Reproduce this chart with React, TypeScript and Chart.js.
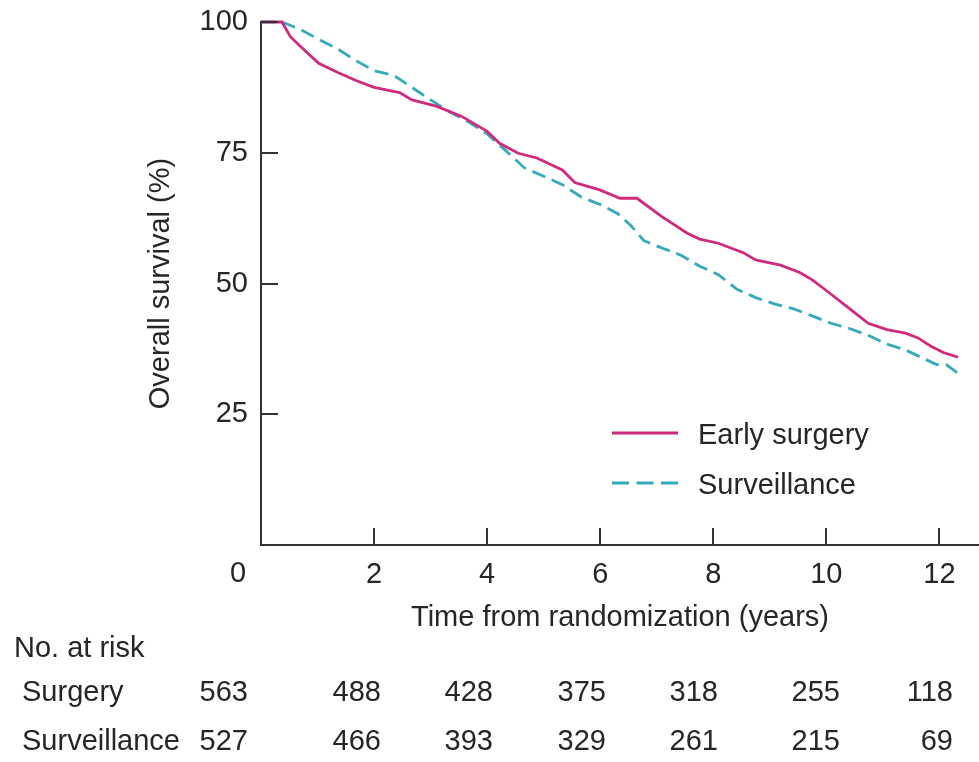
import { useEffect, useRef } from 'react';
import { Chart, registerables } from 'chart.js';

Chart.register(...registerables);

// Kaplan–Meier estimates (years from randomization, % surviving)
const surgeryTimes = [0, 0.37, 0.52, 0.69, 1.02, 1.35, 1.68, 2.0, 2.45, 2.67, 3.1, 3.56, 4.0, 4.22, 4.55, 4.88, 5.33, 5.55, 5.99, 6.35, 6.65, 7.09, 7.54, 7.76, 8.09, 8.53, 8.75, 9.19, 9.53, 9.75, 9.97, 10.41, 10.74, 11.07, 11.4, 11.62, 11.85, 12.07, 12.33];
const surgerySurvival = [100, 100, 97.2, 95.4, 92.1, 90.4, 88.8, 87.5, 86.5, 85.1, 83.9, 81.9, 79.1, 76.8, 74.9, 74.0, 71.7, 69.3, 67.9, 66.3, 66.3, 62.8, 59.6, 58.5, 57.7, 55.9, 54.5, 53.5, 52.1, 50.7, 48.9, 45.2, 42.4, 41.2, 40.5, 39.6, 38.0, 36.8, 35.9];

const surveillanceTimes = [0, 0.37, 0.69, 1.02, 1.35, 1.68, 2.0, 2.35, 2.67, 3.0, 3.34, 3.67, 4.0, 4.33, 4.66, 5.0, 5.33, 5.67, 6.0, 6.32, 6.55, 6.77, 7.09, 7.43, 7.76, 8.09, 8.42, 8.75, 9.08, 9.41, 9.75, 10.08, 10.41, 10.74, 11.07, 11.4, 11.73, 11.95, 12.12, 12.33];
const surveillanceSurvival = [100, 100, 98.6, 96.7, 94.9, 92.6, 90.7, 89.8, 87.5, 85.1, 82.8, 80.9, 78.6, 75.4, 72.1, 70.5, 68.9, 66.5, 65.1, 63.3, 61.0, 58.2, 56.8, 55.4, 53.3, 51.7, 48.9, 47.3, 46.1, 45.2, 43.8, 42.4, 41.4, 40.1, 38.4, 37.3, 35.6, 34.5, 34.5, 32.8];

const seriesLabels = ['Early surgery', 'Surveillance'];

// Numbers at risk
const riskRowLabels = ['Surgery', 'Surveillance'];
const riskSurgery = [563, 488, 428, 375, 318, 255, 118];
const riskSurveillance = [527, 466, 393, 329, 261, 215, 69];

const xTickValues = [0, 2, 4, 6, 8, 10, 12];
const yTickValues = [25, 50, 75, 100];

// layout
const W = 979;
const H = 762;
const FONT = '"Liberation Sans", Arial, Helvetica, sans-serif';
const FONT_SIZE = 29;
const TEXT = '#262626';
const AXIS = '#333333';
const SURGERY_COLOR = '#cf2a7c';
const SURVEILLANCE_COLOR = '#35aabb';
const TICK_LEN = 17;
const riskColumnRight = [248, 381, 493, 606, 718, 840, 953];

const decorations = {
  id: 'decorations',
  afterDraw(chart: any) {
    const { ctx, chartArea, scales } = chart;
    const xs = scales.x;
    const ys = scales.y;
    ctx.save();

    // inward tick marks
    ctx.strokeStyle = AXIS;
    ctx.lineWidth = 2;
    ctx.lineCap = 'butt';
    yTickValues.forEach((v) => {
      const py = Math.round(ys.getPixelForValue(v));
      ctx.beginPath();
      ctx.moveTo(chartArea.left, py);
      ctx.lineTo(chartArea.left + TICK_LEN, py);
      ctx.stroke();
    });
    xTickValues.forEach((v) => {
      if (v === 0) return;
      const px = Math.round(xs.getPixelForValue(v));
      ctx.beginPath();
      ctx.moveTo(px, chartArea.bottom);
      ctx.lineTo(px, chartArea.bottom - TICK_LEN);
      ctx.stroke();
    });

    ctx.font = `${FONT_SIZE}px ${FONT}`;
    ctx.fillStyle = TEXT;
    ctx.textBaseline = 'middle';

    // origin label
    ctx.textAlign = 'center';
    ctx.fillText('0', xs.getPixelForValue(0) - 23, 574);

    // legend
    const legendY = [433, 483];
    chart.data.datasets.forEach((ds: any, i: number) => {
      ctx.save();
      ctx.strokeStyle = ds.borderColor;
      ctx.lineWidth = ds.borderWidth;
      ctx.setLineDash(i === 1 ? [17, 7.5] : []);
      ctx.beginPath();
      ctx.moveTo(612, legendY[i]);
      ctx.lineTo(678, legendY[i]);
      ctx.stroke();
      ctx.restore();
      ctx.textAlign = 'left';
      ctx.fillText(ds.label, 698, legendY[i] + 3);
    });

    // numbers at risk
    ctx.textAlign = 'left';
    ctx.fillText('No. at risk', 14, 649);
    const rows = [riskSurgery, riskSurveillance];
    const rowY = [693, 742];
    rows.forEach((row, r) => {
      ctx.textAlign = 'left';
      ctx.fillText(riskRowLabels[r], 22, rowY[r]);
      ctx.textAlign = 'right';
      row.forEach((n, c) => ctx.fillText(String(n), riskColumnRight[c], rowY[r]));
    });

    ctx.restore();
  },
};

export default function App() {
  const canvasRef = useRef<HTMLCanvasElement>(null);

  useEffect(() => {
    const canvas = canvasRef.current;
    if (!canvas) return;
    const font = { family: FONT, size: FONT_SIZE };
    const chart = new Chart(canvas, {
      type: 'line',
      data: {
        datasets: [
          {
            label: seriesLabels[0],
            data: surgeryTimes.map((t, i) => ({ x: t, y: surgerySurvival[i] })),
            borderColor: SURGERY_COLOR,
            borderWidth: 2.8,
            pointRadius: 0,
            tension: 0,
            clip: 6,
          },
          {
            label: seriesLabels[1],
            data: surveillanceTimes.map((t, i) => ({ x: t, y: surveillanceSurvival[i] })),
            borderColor: SURVEILLANCE_COLOR,
            borderWidth: 2.8,
            borderDash: [14, 7],
            pointRadius: 0,
            tension: 0,
            clip: 6,
          },
        ],
      },
      plugins: [decorations],
      options: {
        animation: false,
        responsive: false,
        layout: { padding: { top: 22, left: 0, right: 0, bottom: 0 } },
        plugins: {
          legend: { display: false },
          tooltip: { enabled: false },
        },
        scales: {
          x: {
            type: 'linear',
            min: 0,
            max: 12.7,
            grid: { display: false, drawTicks: false },
            border: { display: true, color: AXIS, width: 2 },
            ticks: {
              stepSize: 2,
              includeBounds: false,
              padding: 13,
              color: TEXT,
              font,
              callback: (v: any) => (v === 0 ? '' : String(v)),
            },
            title: {
              display: true,
              text: 'Time from randomization (years)',
              color: TEXT,
              font,
              padding: { top: 0, bottom: 127 },
            },
            afterFit: (s: any) => {
              s.height = H - 545;
              s.paddingLeft = 0;
              s.paddingRight = 0;
            },
          },
          y: {
            type: 'linear',
            min: 0,
            max: 100,
            grid: { display: false, drawTicks: false },
            border: { display: true, color: AXIS, width: 2 },
            ticks: {
              stepSize: 25,
              padding: 13,
              color: TEXT,
              font,
              callback: (v: any) => (v === 0 ? '' : String(v)),
            },
            title: {
              display: true,
              text: 'Overall survival (%)',
              color: TEXT,
              font,
              padding: { top: 144, bottom: 0 },
            },
            afterFit: (s: any) => {
              s.width = 261;
              s.paddingTop = 0;
              s.paddingBottom = 0;
            },
          },
        },
      },
    });
    return () => chart.destroy();
  }, []);

  return (
    <div style={{ position: 'absolute', left: 0, top: 0, width: W, height: H, background: '#fff' }}>
      <canvas ref={canvasRef} width={W} height={H} style={{ width: W, height: H, display: 'block' }} />
    </div>
  );
}
